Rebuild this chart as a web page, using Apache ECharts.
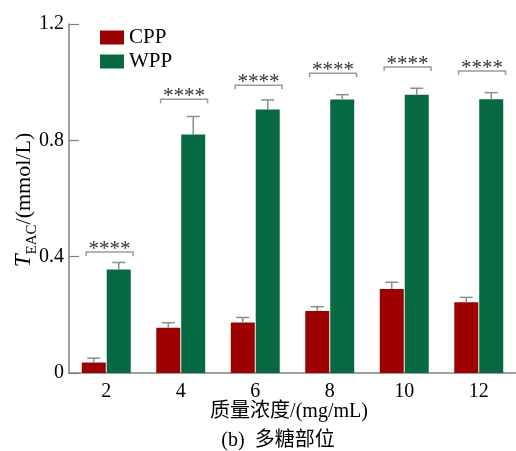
<!DOCTYPE html>
<html>
<head>
<meta charset="utf-8">
<script src="https://cdn.jsdelivr.net/npm/echarts@6/dist/echarts.min.js"></script>
<style>html,body{margin:0;padding:0;background:#fff}#c{width:516px;height:451px}</style>
</head>
<body>
<div id="c"></div>
<script>
const categories = ['2', '4', '6', '8', '10', '12'];
const seriesNames = ['CPP', 'WPP'];
const cppValues = [0.036, 0.156, 0.174, 0.213, 0.289, 0.243];
const cppErrors = [0.015, 0.017, 0.017, 0.015, 0.023, 0.017];
const wppValues = [0.356, 0.820, 0.906, 0.940, 0.957, 0.941];
const wppErrors = [0.024, 0.062, 0.033, 0.017, 0.022, 0.023];
const bracketLevels = [0.416, 0.941, 0.989, 1.031, 1.052, 1.038];
const sigLabels = ['****', '****', '****', '****', '****', '****'];
const yTicks = [0, 0.4, 0.8, 1.2];

const FONT = '"Liberation Serif", "Times New Roman", "Noto Sans CJK SC", serif';
const RED = '#9c0000';
const GREEN = '#066941';
const BAR_W = 24;
const BAR_GAP = 1;

const chart = echarts.init(document.getElementById('c'), null, {renderer: 'canvas'});

function errorRender(values, errors, side) {
  return function (params, api) {
    const i = params.dataIndex;
    const top = api.coord([i, values[i] + errors[i]]);
    const base = api.coord([i, values[i]]);
    const x = base[0] + side * (BAR_W + BAR_GAP) / 2;
    const style = {stroke: '#8c8c8c', lineWidth: 1.5};
    return {
      type: 'group',
      children: [
        {type: 'line', shape: {x1: x, y1: base[1], x2: x, y2: top[1]}, style: style},
        {type: 'line', shape: {x1: x - 6.5, y1: top[1], x2: x + 6.5, y2: top[1]}, style: style}
      ]
    };
  };
}

function bracketRender(params, api) {
  const i = params.dataIndex;
  const p = api.coord([i, bracketLevels[i]]);
  const band = api.size([1, 0])[0];
  const x1 = p[0] - band * 0.27;
  const x2 = p[0] + band * 0.36;
  const y = p[1];
  const style = {stroke: '#9a9a9a', lineWidth: 1.5, fill: null};
  return {
    type: 'group',
    children: [
      {type: 'polyline', shape: {points: [[x1, y + 4], [x1, y], [x2, y], [x2, y + 4]]}, style: style},
      {type: 'text', style: {text: sigLabels[i], x: (x1 + x2) / 2, y: y + 8, align: 'center', verticalAlign: 'bottom',
        font: '21px ' + FONT, fill: '#333'}}
    ]
  };
}

const option = {
  animation: false,
  backgroundColor: '#fff',
  grid: {left: 69, right: 0, top: 24, bottom: 78},
  legend: {
    orient: 'vertical', left: 95, top: 22, itemWidth: 24, itemHeight: 14, itemGap: 3,
    icon: 'rect', data: seriesNames,
    textStyle: {fontFamily: FONT, fontSize: 21, color: '#000', padding: [3, 0, 0, 0]}
  },
  xAxis: {
    type: 'category', data: categories,
    axisLine: {lineStyle: {color: '#808080', width: 1.5}},
    axisTick: {show: false},
    axisLabel: {fontFamily: FONT, fontSize: 20, color: '#000', margin: 9}
  },
  yAxis: {
    type: 'value', min: 0, max: 1.2, interval: 0.4,
    axisLine: {show: true, lineStyle: {color: '#808080', width: 1.5}},
    axisTick: {show: true, inside: true, length: 10, lineStyle: {color: '#808080', width: 1.2}},
    splitLine: {show: false},
    axisLabel: {fontFamily: FONT, fontSize: 20, color: '#000', margin: 5,
      formatter: function (v) { return yTicks.indexOf(+v.toFixed(1)) >= 0 ? String(+v.toFixed(1)) : ''; }}
  },
  series: [
    {name: 'CPP', type: 'bar', data: cppValues, barWidth: BAR_W, barGap: '4%', itemStyle: {color: RED}},
    {name: 'WPP', type: 'bar', data: wppValues, barWidth: BAR_W, barGap: '4%', itemStyle: {color: GREEN}},
    {type: 'custom', renderItem: errorRender(cppValues, cppErrors, -1), data: cppValues.map((v, i) => [i, v + cppErrors[i]]), z: 3, silent: true},
    {type: 'custom', renderItem: errorRender(wppValues, wppErrors, 1), data: wppValues.map((v, i) => [i, v + wppErrors[i]]), z: 3, silent: true},
    {type: 'custom', renderItem: bracketRender, data: bracketLevels.map((v, i) => [i, v]), z: 4, silent: true}
  ],
  graphic: [
    {type: 'text', x: 23, y: 200, rotation: Math.PI / 2,
      style: {text: '{t|T}{s|EAC}{n|/(mmol/L)}', align: 'center', verticalAlign: 'middle',
        rich: {
          t: {fontFamily: FONT, fontSize: 23, fontStyle: 'italic', fill: '#000', verticalAlign: 'bottom', lineHeight: 24},
          s: {fontFamily: FONT, fontSize: 15, fill: '#000', verticalAlign: 'bottom', lineHeight: 24, padding: [0, 0, -5, 0]},
          n: {fontFamily: FONT, fontSize: 22, fill: '#000', verticalAlign: 'bottom', lineHeight: 24}
        }}},
    {type: 'text', x: 289, y: 412,
      style: {text: '质量浓度/(mg/mL)', font: '20px ' + FONT, fill: '#000', align: 'center', verticalAlign: 'middle'}},
    {type: 'text', x: 278, y: 441,
      style: {text: '(b)  多糖部位', font: '20px ' + FONT, fill: '#000', align: 'center', verticalAlign: 'middle'}}
  ]
};
chart.setOption(option);
</script>
</body>
</html>
